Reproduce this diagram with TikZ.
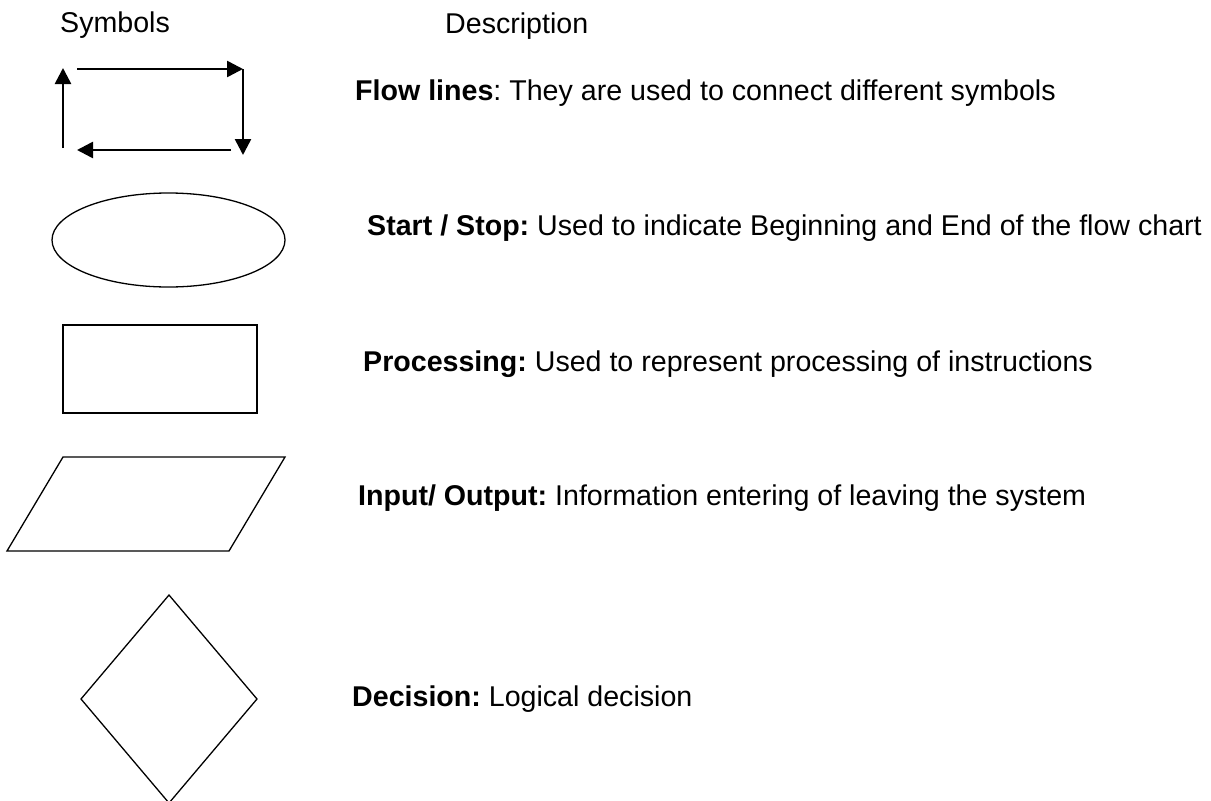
\documentclass[tikz,border=0pt]{standalone}
\usepackage{fontspec}
\setmainfont{Liberation Sans}
\usetikzlibrary{arrows.meta}
\frenchspacing
\begin{document}
\begin{tikzpicture}[x=1pt,y=-1pt,
  label/.style={anchor=base west,inner sep=0pt,font=\fontsize{28.6}{34}\selectfont},
  flow/.style={line width=2.6pt,-{Triangle[length=16pt,width=16pt]}},
  outline/.style={draw=black,line width=1.3pt,line join=miter}]
\useasboundingbox (0,0) rectangle (1211,801);

% column headings
\node[label] (hsym) at (60,32) {Symbols};
\node[label] (hdesc) at (445,33) {Description};

% flow lines: four arrows forming a loop
\coordinate (tl) at (77,69);
\coordinate (tr) at (243,69);
\coordinate (rt) at (243,69);
\coordinate (rb) at (243,155);
\coordinate (br) at (231,150);
\coordinate (bl) at (77,150);
\coordinate (lb) at (63,148);
\coordinate (lt) at (63,68);
\draw[flow] (tl) -- (tr);
\draw[flow] (rt) -- (rb);
\draw[flow] (br) -- (bl);
\draw[flow] (lb) -- (lt);

% start / stop
\draw[outline] (168.5,240) ellipse [x radius=116.5, y radius=47];
% processing
\draw[outline] (63,325) rectangle (257,413);
% input / output
\draw[outline] (63,457) -- (285,457) -- (229,551) -- (7,551) -- cycle;
% decision
\draw[outline] (169,595) -- (257,699) -- (169,803) -- (81,699) -- cycle;

% descriptions
\node[label] (dflow) at (355,100) {\textbf{Flow lines}: They are used to connect different symbols};
\node[label] (dstart) at (367,235) {\textbf{Start / Stop:} Used to indicate Beginning and End of the flow chart};
\node[label] (dproc) at (363,371) {\textbf{Processing:} Used to represent processing of instructions};
\node[label] (dio) at (358,505) {\textbf{Input/ Output:} Information entering of leaving the system};
\node[label] (ddec) at (352,706) {\textbf{Decision:} Logical decision};
\end{tikzpicture}
\end{document}
